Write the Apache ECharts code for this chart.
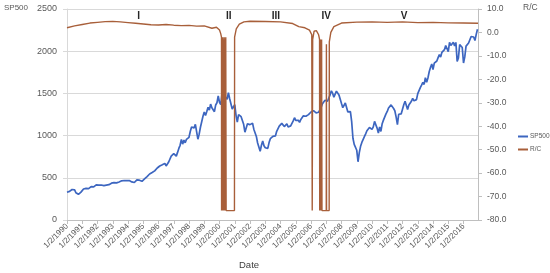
<!DOCTYPE html>
<html><head><meta charset="utf-8">
<script src="https://cdn.jsdelivr.net/npm/echarts@6/dist/echarts.min.js"></script>
<style>html,body{margin:0;padding:0;background:#fff}#c{width:550px;height:273px}</style>
</head><body><div id="c"></div>
<script>
// SP500 monthly values, one array per year (Jan..Dec)
var years = [1990,1991,1992,1993,1994,1995,1996,1997,1998,1999,2000,2001,2002,2003,2004,2005,2006,2007,2008,2009,2010,2011,2012,2013,2014,2015,2016];
var sp500 = [
 [329,331,339,331,361,358,356,323,306,304,322,330],
 [344,367,375,375,390,371,388,395,388,392,375,417],
 [409,413,404,415,415,408,424,414,418,419,431,436],
 [439,443,452,440,450,451,448,464,459,468,462,466],
 [482,467,446,451,457,444,458,475,463,472,454,459],
 [470,487,501,515,533,545,562,562,584,582,605,616],
 [636,640,646,654,669,671,640,652,687,705,757,741],
 [786,790,757,801,848,885,954,899,947,915,955,970],
 [980,1049,1102,1112,1091,1134,1121,957,1017,1099,1164,1229],
 [1280,1238,1286,1335,1302,1373,1329,1320,1283,1363,1389,1469],
 [1394,1366,1499,1452,1421,1455,1431,1510,1437,1429,1315,1320],
 [1366,1240,1160,1249,1256,1224,1211,1134,1041,1060,1139,1148],
 [1130,1107,1147,1076,1067,990,912,916,815,886,936,880],
 [856,841,848,917,964,975,990,1008,996,1051,1058,1112],
 [1131,1145,1126,1107,1121,1141,1102,1104,1115,1130,1174,1212],
 [1181,1204,1181,1157,1192,1191,1234,1220,1229,1207,1249,1248],
 [1280,1281,1295,1311,1270,1270,1277,1304,1336,1378,1401,1418],
 [1438,1407,1421,1482,1531,1503,1455,1474,1527,1549,1481,1468],
 [1379,1331,1323,1386,1400,1280,1267,1283,1165,969,896,903],
 [826,690,798,873,919,919,987,1021,1057,1036,1096,1115],
 [1074,1104,1169,1187,1089,1031,1102,1049,1141,1183,1181,1258],
 [1286,1327,1326,1364,1345,1321,1292,1219,1131,1253,1247,1258],
 [1312,1366,1408,1398,1310,1362,1379,1407,1441,1412,1416,1426],
 [1498,1515,1569,1598,1631,1606,1686,1633,1682,1757,1806,1848],
 [1783,1859,1872,1884,1924,1960,1931,1987,1972,2018,2068,2059],
 [1995,2105,2068,2086,2107,2063,2104,1880,1920,2079,2080,2044],
 [1860,1932,2060,2065,2097,2099,2174,2171,2168,2126,2199,2260]
];
// R/C ratio: dates (decimal years) and values
var rcDates = [1990.0,1990.5,1991.0,1991.5,1992.0,1992.5,1993.0,1993.5,1994.0,1994.5,1995.0,1995.5,1996.0,1996.5,1997.0,1997.5,1998.0,1998.5,1999.0,1999.5,1999.8,2000.0,2000.08,2000.13,
 2000.135,2000.16,2000.185,2000.21,2000.235,2000.26,2000.285,2000.31,2000.335,2000.36,2000.385,2000.41,2000.435,2000.46,
 2000.98,2000.99,2001.1,2001.3,2001.6,2002.0,2003.0,2004.0,2004.8,2005.2,2005.6,2005.9,2006.05,
 2006.08,2006.11,2006.2,2006.35,2006.5,2006.56,
 2006.57,2006.595,2006.62,2006.645,2006.67,2006.695,2006.72,2006.75,
 2007.0,2007.01,2007.02,2007.19,2007.2,2007.3,2007.5,2008.0,2009.0,2010.0,2011.0,2012.0,2013.0,2014.0,2015.0,2016.0,2016.95];
var rcValues = [2.0,2.8,3.4,4.0,4.3,4.6,4.7,4.5,4.2,3.9,3.6,3.3,3.2,3.4,3.1,2.9,3.0,2.7,2.8,1.8,2.2,1.0,-0.5,-2.0,
 -76,-3,-76,-2,-76,-3,-76,-2,-76,-3,-76,-2,-76,-76,
 -76,-2,1.5,3.5,4.5,4.8,4.7,4.5,3.8,2.5,2.0,1.0,-1.0,
 -76,-3,0.5,0.8,-1.0,-3.0,
 -76,-3,-76,-3,-76,-3,-76,-76,
 -76,-5,-76,-76,-4,0,2.5,4.0,4.4,4.5,4.3,4.5,4.2,4.3,4.1,4.0,3.9];
var phaseNames = ['I','II','III','IV','V'];
var phaseDates = [1994.7,2000.6,2003.7,2007.0,2012.1];

var spData = [];
years.forEach(function(y,i){ sp500[i].forEach(function(v,m){ spData.push([y+m/12, v]); }); });
var rcData = rcDates.map(function(d,i){ return [d, rcValues[i]]; });

var chart = echarts.init(document.getElementById('c'));
var grey = '#595959';
var ff = 'Liberation Sans';
chart.setOption({
  animation:false,
  grid:{left:67,right:72,top:9,bottom:53},
  legend:{orient:'vertical',left:513,top:128,itemWidth:10,itemHeight:2,itemGap:6,
    textStyle:{fontSize:6.5,color:grey,fontFamily:ff,padding:[0,0,0,-3]},
    data:[{name:'SP500',icon:'rect'},{name:'R/C',icon:'rect'}]},
  xAxis:{type:'value',min:1990,max:2016.95,interval:1,
    axisLine:{lineStyle:{color:'#BFBFBF'}},
    axisTick:{show:true,length:4,lineStyle:{color:'#BFBFBF'}},
    splitLine:{show:false},
    axisLabel:{rotate:45,fontSize:8,color:grey,margin:5,fontFamily:ff,
      showMaxLabel:false,
      formatter:function(v){ return Math.abs(v-Math.round(v))<1e-6 ? '1/2/'+Math.round(v) : ''; }}},
  yAxis:[
    {type:'value',min:0,max:2500,interval:500,position:'left',
     axisLine:{show:true,lineStyle:{color:'#D9D9D9'}},
     axisTick:{show:true,length:4,lineStyle:{color:'#D9D9D9'}},
     splitLine:{lineStyle:{color:'#D9D9D9'}},
     axisLabel:{fontSize:9,color:grey,margin:10,fontFamily:ff,formatter:function(v){return String(v);}}},
    {type:'value',min:-80,max:10,interval:10,position:'right',
     axisLine:{show:true,lineStyle:{color:'#BFBFBF'}},
     axisTick:{show:true,length:4,lineStyle:{color:'#BFBFBF'}},
     splitLine:{show:false},
     axisLabel:{fontSize:8.5,color:grey,margin:9,fontFamily:ff,
       formatter:function(v){return v.toFixed(1);}}}
  ],
  series:[
    {name:'SP500',type:'line',data:spData,showSymbol:false,symbol:'none',
     lineStyle:{color:'#3D66C0',width:1.7},itemStyle:{color:'#3D66C0'}},
    {name:'R/C',type:'line',yAxisIndex:1,data:rcData,showSymbol:false,symbol:'none',
     lineStyle:{color:'#A85F3A',width:1.4},itemStyle:{color:'#A85F3A'},
     markPoint:{symbol:'circle',symbolSize:0,
       label:{show:true,position:'inside',fontSize:10,fontWeight:'bold',color:'#262626',fontFamily:ff,
              formatter:function(p){return p.name;}},
       data:phaseNames.map(function(n,i){return {name:n,coord:[phaseDates[i],7.0]};})}}
  ],
  graphic:[
    {type:'text',left:4,top:4,style:{text:'SP500',fontSize:8,fill:grey,fontFamily:ff}},
    {type:'text',left:523,top:3,style:{text:'R/C',fontSize:8.5,fill:grey,fontFamily:ff}},
    {type:'text',left:239,top:260,style:{text:'Date',fontSize:9.5,fill:'#404040',fontFamily:ff}}
  ]
});
</script></body></html>
